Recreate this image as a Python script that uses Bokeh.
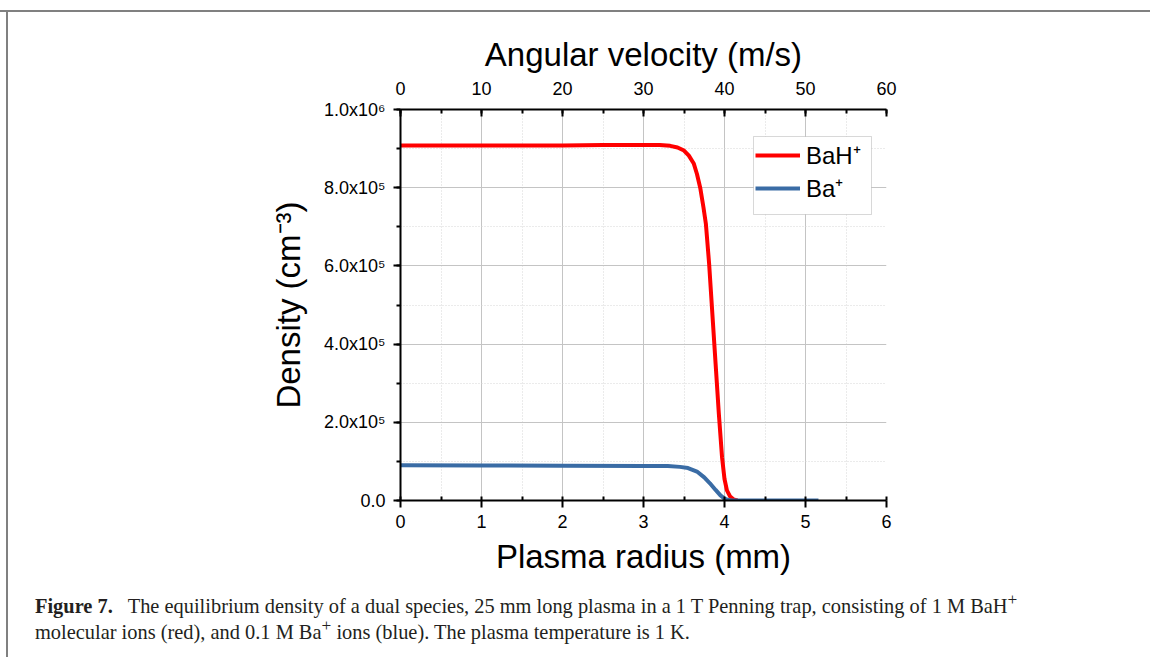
from bokeh.plotting import figure
from bokeh.layouts import column
from bokeh.models import (Range1d, LinearAxis, SingleIntervalTicker, Legend, LegendItem,
                          BoxAnnotation, Grid, Div)
from bokeh.embed import file_html
from bokeh.resources import INLINE

# ---------------- data ----------------
radius_bah = [0.0, 0.5, 1.0, 1.5, 2.0, 2.5, 3.0, 3.2, 3.33, 3.42, 3.5, 3.56, 3.62, 3.66, 3.70,
              3.74, 3.77, 3.81, 3.85, 3.89, 3.93, 3.97, 4.00, 4.03, 4.07, 4.11, 4.16]
density_bah = [9.08e5, 9.08e5, 9.08e5, 9.08e5, 9.08e5, 9.09e5, 9.09e5, 9.09e5, 9.07e5, 9.03e5,
               8.95e5, 8.82e5, 8.62e5, 8.35e5, 8.00e5, 7.50e5, 7.08e5, 6.06e5, 4.78e5, 3.50e5,
               2.22e5, 1.10e5, 5.5e4, 2.6e4, 1.0e4, 3e3, 0.0]

radius_ba = [0.0, 1.0, 2.0, 3.0, 3.3, 3.45, 3.55, 3.66, 3.75, 3.82, 3.89, 3.95, 4.0, 4.05,
             4.1, 4.5, 5.16]
density_ba = [9.0e4, 8.95e4, 8.9e4, 8.85e4, 8.8e4, 8.6e4, 8.3e4, 7.4e4, 5.9e4, 4.4e4, 2.7e4,
              1.3e4, 5e3, 1e3, 0.0, 0.0, 0.0]

series_labels = ["BaH\u207a", "Ba\u207a"]
x_title = "Plasma radius (mm)"
top_title = "Angular velocity (m/s)"
y_title = "Density (cm\u207b\u00b3)"
y_tick_values = [0, 200000, 400000, 600000, 800000, 1000000]
y_tick_labels = ["0.0", "2.0x10\u2075", "4.0x10\u2075", "6.0x10\u2075", "8.0x10\u2075", "1.0x10\u2076"]
caption_bold = "Figure 7."
caption_line1 = "The equilibrium density of a dual species, 25 mm long plasma in a 1 T Penning trap, consisting of 1 M BaH"
caption_line2a = "molecular ions (red), and 0.1 M Ba"
caption_line2b = " ions (blue). The plasma temperature is 1 K."

FONT = "Liberation Sans"
SERIF = "Liberation Serif"

p = figure(width=1150, height=580, output_backend="svg", toolbar_location=None,
           x_range=Range1d(0, 6), y_range=Range1d(0, 1.0e6),
           min_border_left=400, min_border_right=264, min_border_top=109, min_border_bottom=80,
           x_axis_type=None, y_axis_type=None)
p.outline_line_color = None
p.background_fill_color = "white"
p.border_fill_color = None
p.extra_x_ranges = {"vel": Range1d(0, 60)}

xb = LinearAxis(ticker=SingleIntervalTicker(interval=1, num_minor_ticks=2), axis_label=x_title)
yl = LinearAxis(ticker=SingleIntervalTicker(interval=200000, num_minor_ticks=2), axis_label=y_title)
xt = LinearAxis(x_range_name="vel", ticker=SingleIntervalTicker(interval=10, num_minor_ticks=2),
                axis_label=top_title)
yl.major_label_overrides = {v: s for v, s in zip(y_tick_values, y_tick_labels)}

for ax in (xb, yl, xt):
    ax.axis_line_color = "black"
    ax.axis_line_width = 2
    ax.major_tick_line_color = "black"
    ax.major_tick_line_width = 2
    ax.minor_tick_line_color = "black"
    ax.minor_tick_line_width = 2
    ax.major_label_text_font = FONT
    ax.major_label_text_font_size = "18px"
    ax.major_label_text_color = "black"
    ax.axis_label_text_font = FONT
    ax.axis_label_text_font_size = "33px"
    ax.axis_label_text_font_style = "normal"
    ax.axis_label_text_color = "black"

xb.major_tick_in = 0
xb.major_tick_out = 7
xb.minor_tick_in = 4
xb.minor_tick_out = 0
xb.major_label_standoff = 7
xb.axis_label_standoff = 7

xt.major_tick_in = 7
xt.major_tick_out = 0
xt.minor_tick_in = 4
xt.minor_tick_out = 0
xt.major_label_standoff = 15
xt.axis_label_standoff = 6

yl.major_tick_in = 0
yl.major_tick_out = 7
yl.minor_tick_in = 0
yl.minor_tick_out = 4
yl.major_label_standoff = 8
yl.axis_label_standoff = 14

p.add_layout(xb, "below")
p.add_layout(yl, "left")
p.add_layout(xt, "above")

# grids
for dim, tk in ((0, xb.ticker), (1, yl.ticker)):
    g = Grid(dimension=dim, ticker=tk)
    g.grid_line_color = "#c4c4c4"
    g.grid_line_width = 1
    g.minor_grid_line_color = "#d6d6d6"
    g.minor_grid_line_dash = "1 2"
    g.minor_grid_line_width = 1
    p.add_layout(g)

r1 = p.line(radius_bah, density_bah, line_color="#ff0000", line_width=4)
r2 = p.line(radius_ba, density_ba, line_color="#3a6ca5", line_width=4)

# legend frame
box = BoxAnnotation(left=753, right=871, top=136, bottom=214,
                    left_units="canvas", right_units="canvas", top_units="canvas", bottom_units="canvas",
                    fill_color="white", fill_alpha=1.0, line_color="#7f7f7f", line_width=1)
p.add_layout(box)

legend = Legend(items=[LegendItem(label=series_labels[0], renderers=[r1]),
                       LegendItem(label=series_labels[1], renderers=[r2])],
                location=(355, 296), padding=0, spacing=-5, margin=0,
                label_height=28, glyph_height=28, glyph_width=45, label_standoff=6,
                label_text_font=FONT, label_text_font_size="24px", label_text_color="black",
                border_line_color=None, background_fill_alpha=0)
p.add_layout(legend)

# caption
sup = '<span style="position:relative; top:-0.45em; font-size:85%;">+</span>'
cap_html = (f'<b>{caption_bold}</b>&nbsp;&nbsp; {caption_line1}{sup}<br>'
            f'{caption_line2a}{sup}{caption_line2b}')
cap = Div(text=cap_html, width=1150, height=77, styles={
    "font-family": SERIF, "font-size": "20.4px", "line-height": "24px", "color": "#231f20",
    "padding-left": "30px", "padding-top": "9px", "box-sizing": "border-box",
    "white-space": "nowrap"})

page = column(p, cap, spacing=0, styles={
    "background-image": "linear-gradient(#808080, #808080), linear-gradient(#808080, #808080)",
    "background-size": "100% 2px, 2px 100%",
    "background-position": "0px 10px, 6px 10px",
    "background-repeat": "no-repeat",
})

open("out.html", "w").write(file_html(page, INLINE))
